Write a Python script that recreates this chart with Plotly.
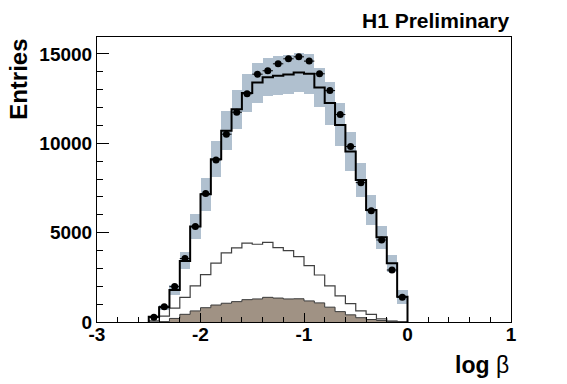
import plotly.graph_objects as go

# bin centres (log beta), bin width 0.1
bin_centers = [-2.45, -2.35, -2.25, -2.15, -2.05, -1.95, -1.85, -1.75, -1.65, -1.55,
               -1.45, -1.35, -1.25, -1.15, -1.05, -0.95, -0.85, -0.75, -0.65, -0.55,
               -0.45, -0.35, -0.25, -0.15, -0.05]
bin_width = 0.1

data_vals = [260, 860, 1980, 3550, 5340, 7190, 9070, 10510, 11740, 12770,
             13870, 14060, 14450, 14730, 14840, 14600, 13890, 12950, 11610, 9820,
             7800, 6230, 4590, 2910, 1380]
mc_total = [300, 820, 1790, 3420, 5340, 7150, 9110, 10710, 11910, 12810,
            13400, 13700, 13780, 13850, 13960, 13890, 13120, 12250, 11030, 9540,
            7950, 6270, 4740, 3290, 1420]
mc_sys = [40, 130, 280, 480, 700, 930, 1000, 1090, 1090, 1070,
          1120, 1060, 1090, 1110, 1110, 1120, 1070, 1200, 1200, 1075,
          960, 820, 650, 470, 390]
mc_comp_a = [60, 330, 780, 1380, 2020, 2650, 3300, 3870, 4150, 4410,
             4350, 4460, 4160, 3990, 3660, 3150, 2630, 2020, 1460, 1030,
             620, 430, 170, 50, 10]
mc_comp_b = [0, 20, 200, 430, 620, 800, 950, 1050, 1140, 1250,
             1290, 1380, 1340, 1290, 1300, 1180, 1070, 830, 580, 400,
             240, 140, 80, 40, 15]

x_ticks = [-3, -2, -1, 0, 1]
y_ticks = [0, 5000, 10000, 15000]

BAND = "#b0c0cf"
BROWN = "#a09284"


def step_xy(values):
    half = bin_width / 2
    xs = [bin_centers[0] - half] + [c - half for c in bin_centers] + [bin_centers[-1] + half]
    ys = [0] + list(values) + [0]
    return xs, ys


fig = go.Figure()

# systematic band around total MC
fig.add_trace(go.Bar(
    x=bin_centers,
    y=[2 * s for s in mc_sys],
    base=[m - s for m, s in zip(mc_total, mc_sys)],
    width=bin_width,
    marker=dict(color=BAND, line=dict(width=0)),
    showlegend=False,
))

# brown filled component
xb, yb = step_xy(mc_comp_b)
fig.add_trace(go.Scatter(x=xb, y=yb, mode="lines", line=dict(shape="hv", color="#3a3a3a", width=1),
                         fill="tozeroy", fillcolor=BROWN, showlegend=False))

# thin-line component
xa, ya = step_xy(mc_comp_a)
fig.add_trace(go.Scatter(x=xa, y=ya, mode="lines", line=dict(shape="hv", color="#404040", width=1.2),
                         showlegend=False))

# total MC
xt, yt = step_xy(mc_total)
fig.add_trace(go.Scatter(x=xt, y=yt, mode="lines", line=dict(shape="hv", color="black", width=2),
                         showlegend=False))

# data points
fig.add_trace(go.Scatter(
    x=bin_centers, y=data_vals, mode="markers",
    marker=dict(color="black", size=7, symbol="circle"),
    error_x=dict(type="constant", value=bin_width / 2, color="black", thickness=1, width=0),
    showlegend=False,
))

axis_font = dict(family="Liberation Sans, Arial, sans-serif", size=19, color="black", weight="bold")

fig.update_layout(
    width=559, height=376,
    margin=dict(l=89, r=56, t=29, b=62),
    paper_bgcolor="white", plot_bgcolor="white",
    barmode="overlay", bargap=0,
    font=dict(family="Liberation Sans, Arial, sans-serif", color="black"),
    xaxis=dict(
        range=[-3, 1], tickvals=x_ticks, ticktext=[str(v) for v in x_ticks],
        ticks="inside", ticklen=9, tickwidth=1, tickcolor="black",
        minor=dict(dtick=0.2, tick0=0, ticks="inside", ticklen=5, tickcolor="black", tickwidth=1),
        showline=True, linecolor="black", linewidth=1, mirror=True,
        showgrid=False, zeroline=False, tickfont=axis_font, ticklabelstandoff=-5,
    ),
    yaxis=dict(
        range=[0, 15950], tickvals=y_ticks, ticktext=[str(v) for v in y_ticks],
        ticks="inside", ticklen=12, tickwidth=1, tickcolor="black",
        minor=dict(dtick=1000, tick0=0, ticks="inside", ticklen=6, tickcolor="black", tickwidth=1),
        showline=True, linecolor="black", linewidth=1, mirror=True,
        showgrid=False, zeroline=False, tickfont=axis_font,
    ),
    annotations=[
        dict(text="<b>H1 Preliminary</b>", xref="paper", yref="paper", x=1.0, y=1.01,
             xanchor="right", yanchor="bottom", showarrow=False,
             font=dict(size=21, color="black", family="Liberation Sans, Arial, sans-serif")),
        dict(text="<b>Entries</b>", xref="paper", yref="paper", x=-0.19, y=1.0,
             xanchor="center", yanchor="top", textangle=-90, showarrow=False,
             font=dict(size=24, color="black", family="Liberation Sans, Arial, sans-serif")),
        dict(text="<b>log</b> β", xref="paper", yref="paper", x=1.0, y=-0.151,
             xanchor="right", yanchor="middle", showarrow=False,
             font=dict(size=23, color="black", family="Liberation Sans, Arial, sans-serif")),
    ],
)

fig.write_html("out.html")
